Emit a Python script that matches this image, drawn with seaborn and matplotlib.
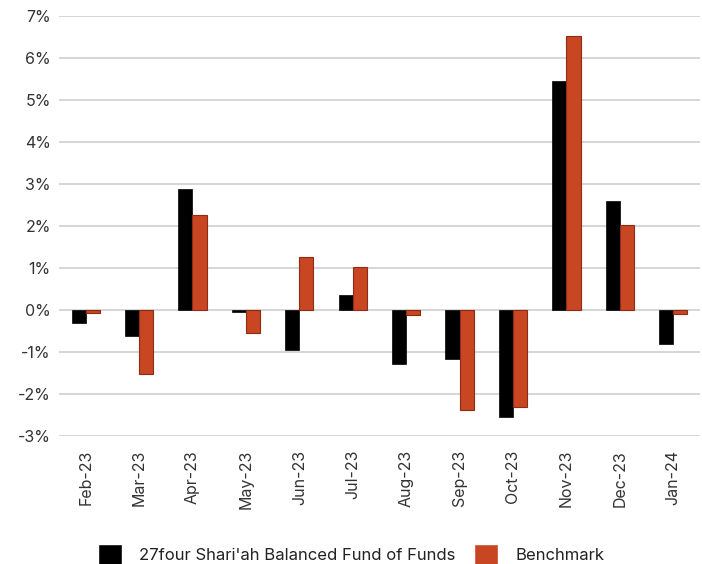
import pandas as pd
import matplotlib.pyplot as plt
import seaborn as sns
from matplotlib.ticker import FuncFormatter

# datos
months = ["Feb-23", "Mar-23", "Apr-23", "May-23", "Jun-23", "Jul-23",
          "Aug-23", "Sep-23", "Oct-23", "Nov-23", "Dec-23", "Jan-24"]
fund = [-0.31, -0.62, 2.87, -0.04, -0.95, 0.35, -1.29, -1.17, -2.56, 5.45, 2.60, -0.81]
benchmark = [-0.08, -1.52, 2.25, -0.54, 1.27, 1.03, -0.13, -2.37, -2.30, 6.52, 2.01, -0.10]

fund_name = "27four Shari'ah Balanced Fund of Funds"
bench_name = "Benchmark"

df = pd.DataFrame({
    "month": months * 2,
    "value": fund + benchmark,
    "series": [fund_name] * len(months) + [bench_name] * len(months),
})

sns.set_style("white")
plt.rcParams["font.family"] = ["Inter", "DejaVu Sans"]

fig = plt.figure(figsize=(7.02, 5.64), dpi=100)
ax = fig.add_axes([0.084, 0.227, 0.913, 0.745])

sns.barplot(data=df, x="month", y="value", hue="series",
            palette={fund_name: "#000000", bench_name: "#C84622"},
            width=0.53, gap=0, saturation=1, ax=ax, legend=True)

# borde oscuro en las barras del benchmark
for bar in ax.containers[1]:
    bar.set_edgecolor("#8E2C14")
    bar.set_linewidth(0.8)
for bar in ax.containers[0]:
    bar.set_edgecolor("#000000")
    bar.set_linewidth(0.5)

ax.set_ylim(-3, 7)
ax.set_yticks(range(-3, 8))
ax.yaxis.set_major_formatter(FuncFormatter(lambda v, p: f"{int(v)}%"))
ax.set_xlim(-0.5, 11.5)
ax.grid(axis="y", color="#D0D0D0", linewidth=1.2)
ax.set_axisbelow(True)
for s in ax.spines.values():
    s.set_visible(False)
ax.tick_params(axis="both", length=0, labelsize=11.5, colors="#333333", pad=6)
ax.tick_params(axis="x", rotation=90, pad=10)
ax.set_xlabel("")
ax.set_ylabel("")

handles, labels = ax.get_legend_handles_labels()
ax.get_legend().remove()
fig.legend(handles, labels, loc="lower center", bbox_to_anchor=(0.5, -0.028),
           ncol=2, frameon=False, fontsize=12, handlelength=1.45,
           handleheight=1.5, handletextpad=1.0, columnspacing=1.15,
           labelcolor="#222222")

plt.savefig("out.png", dpi=100)
